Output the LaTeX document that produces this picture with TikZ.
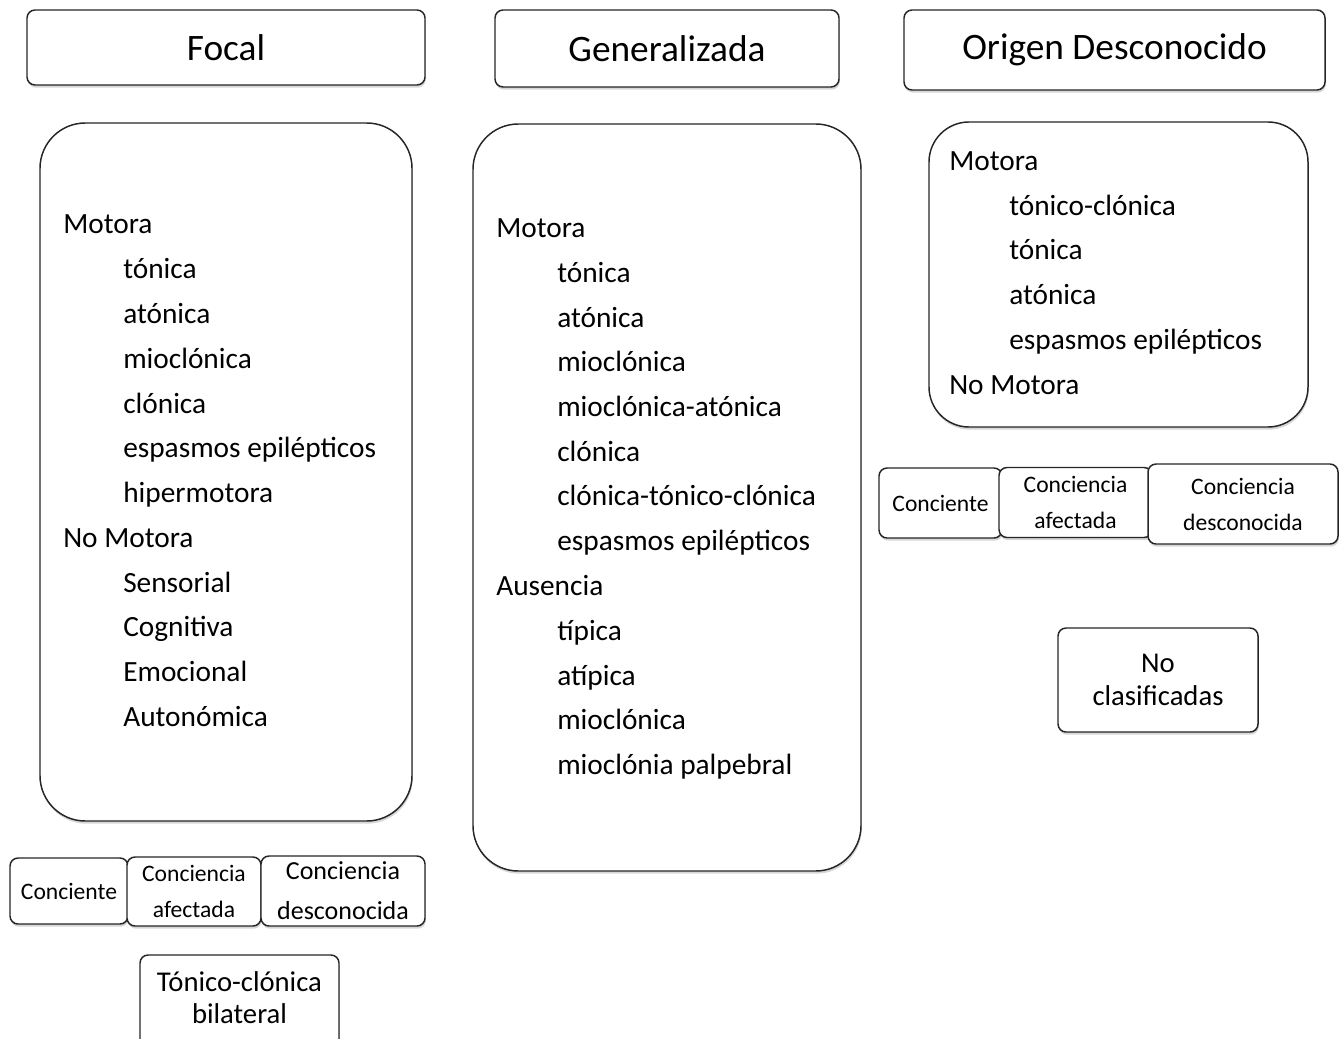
\documentclass[tikz,border=0pt]{standalone}
\usepackage{fontspec}
\setmainfont{Carlito}
\usetikzlibrary{shadows}
\begin{document}
\begin{tikzpicture}[x=0.75pt,y=-0.75pt,
  box/.style={draw=black!85, line width=1.1pt, fill=white, rounded corners=6pt,
    inner sep=0pt, align=center,
    drop shadow={shadow xshift=0.6pt, shadow yshift=-2pt, fill=black!35, opacity=0.45}},
  bigbox/.style={box, rounded corners=34pt},
  title/.style={font=\fontsize{28}{34}\selectfont},
  small/.style={font=\fontsize{17.7}{27}\selectfont},
  smallb/.style={font=\fontsize{19.5}{30}\selectfont},
  mid/.style={font=\fontsize{21.5}{24.5}\selectfont},
  item/.style={anchor=base west, inner sep=0pt, font=\fontsize{22}{26}\selectfont}]
\useasboundingbox (0,0) rectangle (1341,1038);
% headers
\node[box, title, minimum width=298.5pt, minimum height=56.25pt] (focal) at (226,47.5) {Focal};
\node[box, title, minimum width=258pt, minimum height=57.75pt] (gen) at (667,48.5) {Generalizada};
\node[box, title, minimum width=315.75pt, minimum height=60pt] (orig) at (1114.5,50) {Origen Desconocido};
% big boxes
\node[bigbox, minimum width=279pt, minimum height=523.5pt] (focalbox) at (226,472) {};
\node[bigbox, minimum width=291pt, minimum height=560.25pt] (genbox) at (667,497.5) {};
\node[bigbox, rounded corners=30pt, minimum width=284.25pt, minimum height=228.75pt] (origbox) at (1118.5,274.5) {};
% Focal list
\foreach \t/\x/\y [count=\i] in {Motora/63/225, tónica/123/270, atónica/123/315, mioclónica/123/360, clónica/123/405, espasmos epilépticos/123/449, hipermotora/123/494, No Motora/63/539, Sensorial/123/584, Cognitiva/123/628, Emocional/123/673, Autonómica/123/718}
  \node[item] (f\i) at (\x,\y+8.8) {\t};
% Generalizada list
\foreach \t/\x/\y [count=\i] in {Motora/496/229, tónica/557/274, atónica/557/319, mioclónica/557/363, mioclónica-atónica/557/408, clónica/557/453, clónica-tónico-clónica/557/497, espasmos epilépticos/557/542, Ausencia/496/587, típica/557/632, atípica/557/677, mioclónica/557/721, mioclónia palpebral/557/766}
  \node[item] (g\i) at (\x,\y+8.8) {\t};
% Origen list
\foreach \t/\x/\y [count=\i] in {Motora/949/162, tónico-clónica/1009/207, tónica/1009/251, atónica/1009/296, espasmos epilépticos/1009/341, No Motora/949/386}
  \node[item] (o\i) at (\x,\y+8.8) {\t};
% Focal awareness
\node[box, small, minimum width=88.5pt, minimum height=49.5pt] (fc1) at (69,891) {Conciente};
\node[box, small, minimum width=100.5pt, minimum height=51.75pt] (fc2) at (194,891.5) {Conciencia\\afectada};
\node[box, smallb, minimum width=123pt, minimum height=52.5pt] (fc3) at (343,891) {Conciencia\\desconocida};
% Tónico-clónica bilateral
\node[box, minimum width=149.25pt, minimum height=82.5pt] (tcb) at (239.5,1010) {};
\node[mid, align=center, inner sep=0pt] (tcbtext) at (239.5,997.5) {Tónico-clónica\\bilateral};
% Origen awareness
\node[box, small, minimum width=92.25pt, minimum height=52.5pt] (oc1) at (940.5,503) {Conciente};
\node[box, small, minimum width=114.75pt, minimum height=52.5pt] (oc2) at (1075.5,502.5) {Conciencia\\afectada};
\node[box, small, minimum width=142.5pt, minimum height=60pt] (oc3) at (1243,504) {Conciencia\\desconocida};
% No clasificadas
\node[box, mid, minimum width=150pt, minimum height=78pt] (nc) at (1158,680) {No\\clasificadas};
\end{tikzpicture}
\end{document}
